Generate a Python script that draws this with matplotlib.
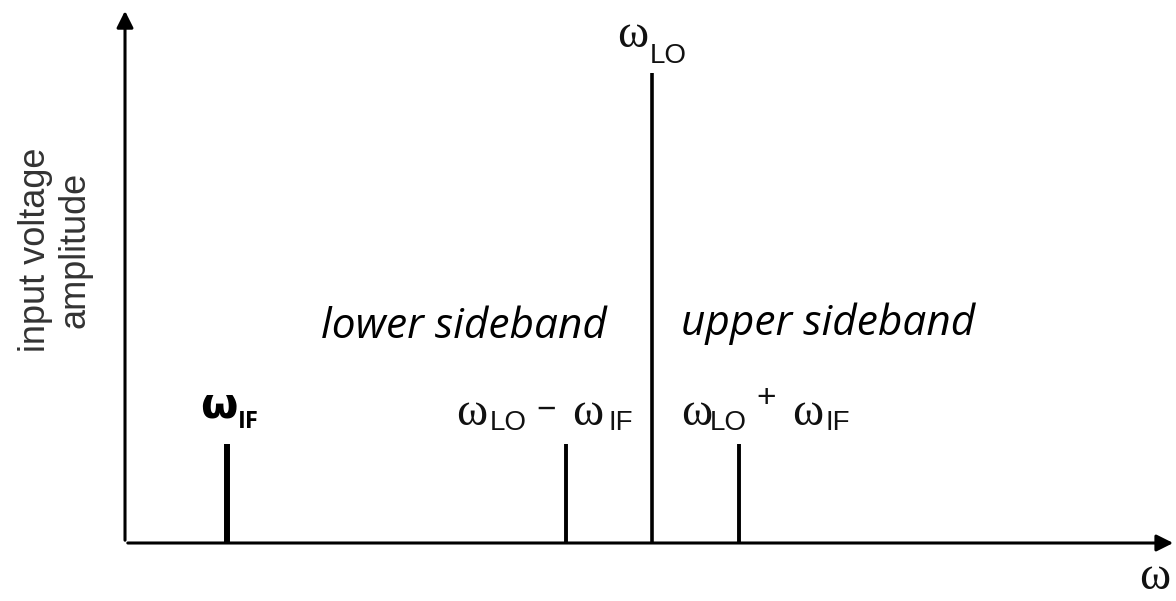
import matplotlib
matplotlib.use("Agg")
import matplotlib.pyplot as plt
from matplotlib.transforms import offset_copy

# spectral lines (frequency in arbitrary units, amplitude relative to LO)
freqs = [1.19, 5.13, 6.13, 7.14]
amps = [0.21, 0.21, 1.0, 0.21]
widths = [4.3, 2.8, 2.6, 2.8]
band_labels = ['lower sideband', 'upper sideband']
ylabel = 'input voltage\namplitude'

fig = plt.figure(figsize=(11.76, 6.01), dpi=100)
ax = fig.add_axes([0.1063, 0.0965, 0.8937, 0.890])
ax.set_xlim(0, 12.22)
ax.set_ylim(0, 1.138)
ax.axis('off')

# axes with arrow heads
ax.annotate('', xy=(1.0, 0), xytext=(0, 0), xycoords='axes fraction',
            arrowprops=dict(arrowstyle='-|>', lw=2.2, color='black', mutation_scale=25))
ax.annotate('', xy=(0, 1.0), xytext=(0, 0), xycoords='axes fraction',
            arrowprops=dict(arrowstyle='-|>', lw=2.2, color='black', mutation_scale=25))

for f, a, w in zip(freqs, amps, widths):
    ax.vlines(f, 0, a, color='black', lw=w)

# label pieces: (text, dx px from line, dy px from omega baseline, style)
OM = dict(family='Liberation Serif', fontsize=34, color='#111')
SUB = dict(family='Liberation Sans', fontsize=20, color='#111')
SGN = dict(family='Liberation Sans', fontsize=24, color='#111')
BOM = dict(family='DejaVu Sans', fontsize=31, weight='bold', color='black')
BSUB = dict(family='Open Sans', fontsize=17, weight='bold', color='black')


def put_label(x, ybase, pieces):
    for txt, dx, dy, st in pieces:
        va = 'center' if txt in '+\u2212' else 'baseline'
        tr = offset_copy(ax.transData, fig=fig, x=dx, y=dy, units='dots')
        ax.text(x, ybase, txt, transform=tr, ha='left', va=va, **st)


put_label(freqs[0], 0.268, [('\u03c9', -27, 0, BOM), ('IF', 11, -11, BSUB)])
put_label(freqs[1], 0.251, [('\u03c9', -110, 0, OM), ('LO', -76, -5, SUB),
                            ('\u2212', -30, 15, SGN), ('\u03c9', 6, 0, OM),
                            ('IF', 42, -5, SUB)])
put_label(freqs[2], 1.055, [('\u03c9', -35, 0, OM), ('LO', -2, -16, SUB)])
put_label(freqs[3], 0.251, [('\u03c9', -58, 0, OM), ('LO', -29, -5, SUB),
                            ('+', 17, 27, SGN), ('\u03c9', 53, 0, OM),
                            ('IF', 86, -5, SUB)])

ax.text(3.94, 0.436, band_labels[0], ha='center', va='baseline', fontsize=30.5,
        style='italic', family='Open Sans')
ax.text(8.17, 0.442, band_labels[1], ha='center', va='baseline', fontsize=30.5,
        style='italic', family='Open Sans')

fig.text(0.047, 0.584, ylabel, rotation=90, ha='center', va='center',
         fontsize=26, family='Liberation Sans', color='#333', linespacing=1.2)
fig.text(0.995, 0.003, '\u03c9', ha='right', va='bottom', **OM)

fig.savefig('out.png', dpi=100)
